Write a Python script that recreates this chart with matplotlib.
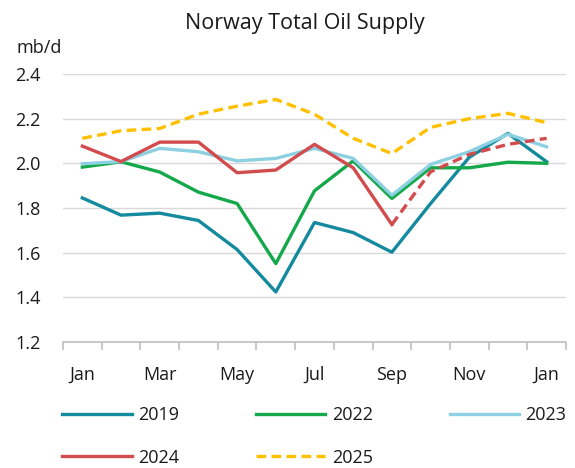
import numpy as np
import matplotlib
matplotlib.use('Agg')
import matplotlib.pyplot as plt

months = ['Jan', 'Feb', 'Mar', 'Apr', 'May', 'Jun', 'Jul',
          'Aug', 'Sep', 'Oct', 'Nov', 'Dec', 'Jan']

y2019 = [1.845, 1.768, 1.777, 1.744, 1.614, 1.424, 1.735,
         1.690, 1.602, 1.820, 2.027, 2.134, 2.007]
y2022 = [1.983, 2.007, 1.961, 1.871, 1.820, 1.551, 1.877,
         2.011, 1.843, 1.980, 1.980, 2.005, 2.000]
y2023 = [1.998, 2.008, 2.067, 2.052, 2.011, 2.022, 2.067,
         2.022, 1.857, 1.995, 2.052, 2.130, 2.074]
y2024 = [2.077, 2.008, 2.095, 2.095, 1.958, 1.970, 2.085,
         1.980, 1.726]
y2024_fc = [1.726, 1.962, 2.040, 2.085, 2.112]  # Sep..Jan, dashed
y2025 = [2.112, 2.146, 2.156, 2.220, 2.256, 2.286, 2.220,
         2.112, 2.044, 2.161, 2.200, 2.224, 2.182]

plt.rcParams['font.family'] = ['Open Sans', 'DejaVu Sans']
txt = '#1a1a1a'

fig = plt.figure(figsize=(5.75, 4.68), dpi=100)
ax = fig.add_axes([63/575, 1 - 342/468, (566-63)/575, (342-74)/468])

x = np.arange(len(months))
lw = 2.4
h19, = ax.plot(x, y2019, color='#138A9E', lw=lw, label='2019')
h22, = ax.plot(x, y2022, color='#13A84A', lw=lw, label='2022')
h23, = ax.plot(x, y2023, color='#8DD0E2', lw=lw, label='2023')
h24, = ax.plot(x[:len(y2024)], y2024, color='#D24B4D', lw=lw, label='2024')
ax.plot(x[8:], y2024_fc, color='#D24B4D', lw=lw, dashes=(2.9, 1.6))
h25, = ax.plot(x, y2025, color='#FFC000', lw=lw, dashes=(2.9, 1.6), label='2025')

ax.set_xlim(-0.5, 12.5)
ax.set_ylim(1.2, 2.4)
ax.set_yticks(np.arange(1.2, 2.41, 0.2))
ax.set_yticklabels(['%.1f' % v for v in np.arange(1.2, 2.41, 0.2)])
ax.grid(axis='y', color='#D9D9D9', lw=1)
ax.set_axisbelow(True)

ax.set_xticks(np.arange(-0.5, 13, 1))
ax.set_xticklabels([])
ax.set_xticks(x[::2], [months[i] for i in x[::2]], minor=True)
ax.tick_params(axis='x', which='major', length=6, color='#BFBFBF', width=1.2)
ax.tick_params(axis='x', which='minor', length=0, pad=17, labelsize=13, labelcolor=txt)
ax.tick_params(axis='y', length=0, pad=16, labelsize=13, labelcolor=txt)

for s in ['top', 'right', 'left']:
    ax.spines[s].set_visible(False)
ax.spines['bottom'].set_color('#BFBFBF')
ax.spines['bottom'].set_linewidth(1.2)

fig.text(305/575, 1 - 23/468, 'Norway Total Oil Supply', ha='center', va='center',
         fontsize=15.5, color=txt)
fig.text(17/575, 1 - 48/468, 'mb/d', ha='left', va='center', fontsize=13, color=txt)

fig.legend(handles=[h19, h24, h22, h25, h23], ncol=3, loc='upper left',
           bbox_to_anchor=(46/575, 1 - 390/468), frameon=False, fontsize=13,
           handlelength=3.85, handletextpad=0.35, columnspacing=4.25,
           labelspacing=1.35, labelcolor=txt)

fig.savefig('out.png', dpi=100)
